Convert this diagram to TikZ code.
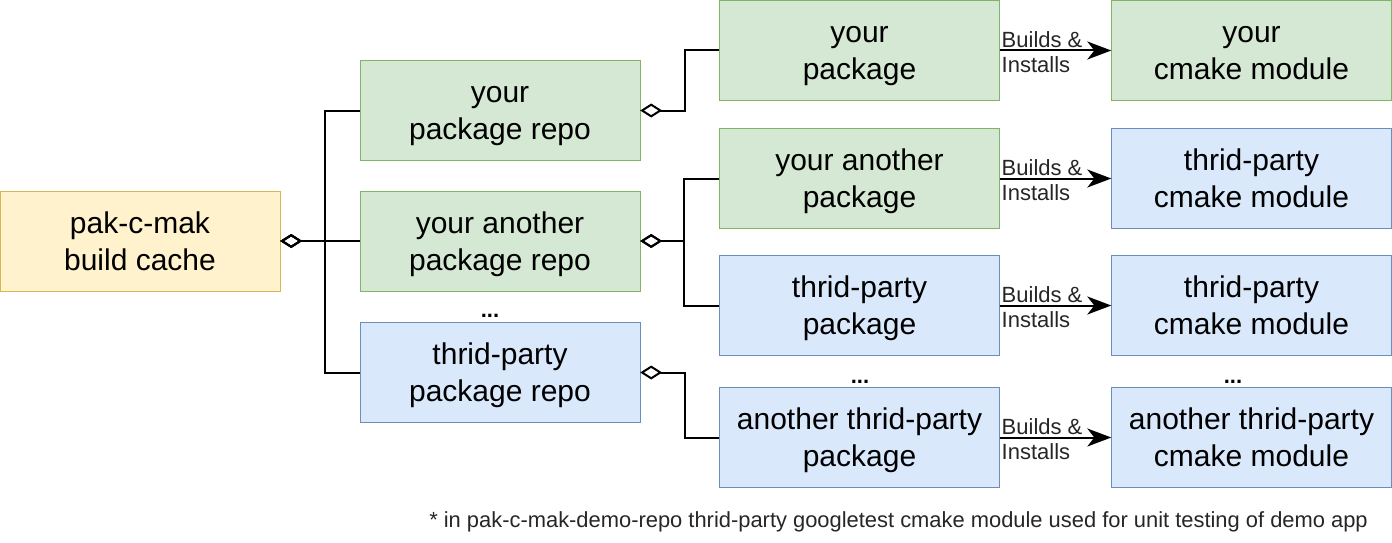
\documentclass[tikz,border=0pt]{standalone}
\usepackage{fontspec}
\setmainfont{Liberation Sans}
\usetikzlibrary{arrows.meta}

\definecolor{cacheFill}{HTML}{FFF2CC}
\definecolor{cacheLine}{HTML}{D6B656}
\definecolor{ownFill}{HTML}{D5E8D4}
\definecolor{ownLine}{HTML}{82B366}
\definecolor{thirdFill}{HTML}{DAE8FC}
\definecolor{thirdLine}{HTML}{6C8EBF}

% even two-line boxes, whatever the letters
\newcommand{\topStrut}{\vrule width0pt height\dimexpr.95em+\baselineskip\relax depth0pt}
\newcommand{\bottomStrut}{\vrule width0pt height0pt depth.25em}

\tikzset{
  box/.style={draw, minimum width=280pt, minimum height=100pt,
    inner sep=0pt, align=center, font=\fontsize{30}{37}\selectfont,
    execute at begin node=\topStrut, execute at end node=\bottomStrut},
  cache box/.style={box, fill=cacheFill, draw=cacheLine},
  own box/.style={box, fill=ownFill, draw=ownLine},
  third box/.style={box, fill=thirdFill, draw=thirdLine},
  aggregate line/.style={line width=2pt,
    {Diamond[open,length=22pt,width=14pt]}-},
  build line/.style={line width=2pt,
    -{Stealth[length=24pt,width=18pt,inset=7pt]}},
  build label/.style={anchor=west, inner sep=0pt, xshift=1pt, yshift=-1.5pt,
    align=left, text=black!85, font=\fontsize{22}{25}\selectfont,
    execute at begin node=\topStrut, execute at end node=\bottomStrut},
  more dots/.style={font=\bfseries\fontsize{22}{24}\selectfont}
}

\begin{document}
\begin{tikzpicture}[x=1pt,y=-1pt]
  \useasboundingbox (0,0) rectangle (1392,543);
  % cache and repos
  \node (cacheNode) [cache box] at (140,241) {pak-c-mak\\build cache};
  \node (yourRepo) [own box] at (500,110.5) {your\\package repo};
  \node (anotherRepo) [own box] at (500,241) {your another\\package repo};
  \node (repoDots) [more dots] at (490,316) {...};
  \node (thirdRepo) [third box] at (500,372.5) {thrid-party\\package repo};

  % packages
  \node (yourPackage) [own box] at (859.5,50.5) {your\\package};
  \node (anotherPackage) [own box] at (859.5,178.5) {your another\\package};
  \node (thirdPackage) [third box] at (859.5,305.5) {thrid-party\\package};
  \node (packageDots) [more dots] at (860,382) {...};
  \node (otherPackage) [third box] at (859.5,437.5) {another thrid-party\\package};

  % cmake modules
  \node (yourModule) [own box] at (1251.5,50.5) {your\\cmake module};
  \node (anotherModule) [third box] at (1251.5,178.5) {thrid-party\\cmake module};
  \node (thirdModule) [third box] at (1251.5,305.5) {thrid-party\\cmake module};
  \node (moduleDots) [more dots] at (1233,382) {...};
  \node (otherModule) [third box] at (1251.5,437.5) {another thrid-party\\cmake module};

  % aggregation
  \draw[aggregate line] (cacheNode.east) -- ++(45,0) |- (yourRepo.west);
  \draw[aggregate line] (cacheNode.east) -- (anotherRepo.west);
  \draw[aggregate line] (cacheNode.east) -- ++(45,0) |- (thirdRepo.west);
  \draw[aggregate line] (yourRepo.east) -- ++(45,0) |- (yourPackage.west);
  \draw[aggregate line] (anotherRepo.east) -- ++(44,0) |- (anotherPackage.west);
  \draw[aggregate line] (anotherRepo.east) -- ++(44,0) |- (thirdPackage.west);
  \draw[aggregate line] (thirdRepo.east) -- ++(45,0) |- (otherPackage.west);

  % builds
  \foreach \pkg/\mdl in {yourPackage/yourModule, anotherPackage/anotherModule,
      thirdPackage/thirdModule, otherPackage/otherModule}
    \draw[build line] (\pkg.east) -- (\mdl.west)
      node[build label, pos=0] {Builds \&\\Installs};

  \node (footNote) [anchor=east, inner sep=0pt, text=black!85,
    font=\fontsize{21.9}{24}\selectfont]
    at (1368,522) {* in pak-c-mak-demo-repo thrid-party googletest cmake module used for unit testing of demo app};
\end{tikzpicture}
\end{document}
